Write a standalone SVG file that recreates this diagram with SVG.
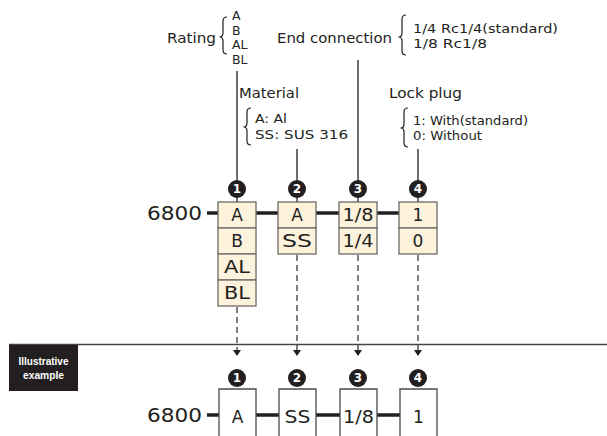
<svg xmlns="http://www.w3.org/2000/svg" width="607" height="436" viewBox="0 0 607 436">
<style>
.t{font-family:"DejaVu Sans","Liberation Sans",sans-serif;fill:#231f20}
.lbl{font-size:14px}
.sm{font-size:12.5px}
.bx{font-size:17px;text-anchor:middle}
.num{font-family:"DejaVu Sans","Liberation Sans",sans-serif;font-size:12px;font-weight:bold;fill:#fff;text-anchor:middle}
.cell{fill:#fdf3dc;stroke:#6e6a64;stroke-width:1.3}
.wcell{fill:#fff;stroke:#4a4a4a;stroke-width:1.3}
.brace{fill:none;stroke:#231f20;stroke-width:1.2}
.lead{stroke:#231f20;stroke-width:1.3}
.bar{stroke:#231f20;stroke-width:3.5}
.dash{stroke:#555;stroke-width:1.5;stroke-dasharray:6 4}
.ah{fill:#231f20}
</style>
<defs>
<g id="c1"><circle r="9" fill="#231f20"/><text class="num" y="4.3">1</text></g>
<g id="c2"><circle r="9" fill="#231f20"/><text class="num" y="4.3">2</text></g>
<g id="c3"><circle r="9" fill="#231f20"/><text class="num" y="4.3">3</text></g>
<g id="c4"><circle r="9" fill="#231f20"/><text class="num" y="4.3">4</text></g>
</defs>

<g id="rating-label">
<text class="t lbl" x="167" y="43" textLength="49" lengthAdjust="spacingAndGlyphs">Rating</text>
<path class="brace" d="M227,17 Q223,17 223,21 L223,33 Q223,37 219.5,37 Q223,37 223,41 L223,50 Q223,54 227,54"/>
<text class="t sm" x="232" y="20">A</text>
<text class="t sm" x="232" y="35">B</text>
<text class="t sm" x="232" y="49">AL</text>
<text class="t sm" x="232" y="64">BL</text>
</g>

<g id="end-label">
<text class="t lbl" x="277" y="43" textLength="115" lengthAdjust="spacingAndGlyphs">End connection</text>
<path class="brace" d="M406,15 Q402,15 402,19 L402,33 Q402,37 398.5,37 Q402,37 402,41 L402,51 Q402,55 406,55"/>
<text class="t sm" x="413" y="33" textLength="145" lengthAdjust="spacingAndGlyphs">1/4 Rc1/4(standard)</text>
<text class="t sm" x="413" y="48" textLength="74" lengthAdjust="spacingAndGlyphs">1/8 Rc1/8</text>
</g>

<g id="material-label">
<text class="t lbl" x="239" y="98" textLength="60" lengthAdjust="spacingAndGlyphs">Material</text>
<path class="brace" d="M251,108 Q247,108 247,112 L247,123 Q247,127 243.5,127 Q247,127 247,131 L247,141 Q247,145 251,145"/>
<text class="t sm" x="255" y="123" textLength="32" lengthAdjust="spacingAndGlyphs">A: Al</text>
<text class="t sm" x="255" y="139" textLength="93" lengthAdjust="spacingAndGlyphs">SS: SUS 316</text>
</g>

<g id="lock-label">
<text class="t lbl" x="389" y="98" textLength="73" lengthAdjust="spacingAndGlyphs">Lock plug</text>
<path class="brace" d="M408,108 Q404,108 404,112 L404,124 Q404,128 400.5,128 Q404,128 404,132 L404,143 Q404,147 408,147"/>
<text class="t sm" x="413" y="125" textLength="115" lengthAdjust="spacingAndGlyphs">1: With(standard)</text>
<text class="t sm" x="413" y="140" textLength="69" lengthAdjust="spacingAndGlyphs">0: Without</text>
</g>

<g id="connectors">
<line class="lead" x1="237" y1="71" x2="237" y2="202"/>
<line class="lead" x1="358" y1="60" x2="358" y2="202"/>
<line class="lead" x1="297" y1="149" x2="297" y2="202"/>
<line class="lead" x1="418" y1="149" x2="418" y2="202"/>
<line class="bar" x1="207" y1="213" x2="218" y2="213"/>
<line class="bar" x1="256" y1="213" x2="278" y2="213"/>
<line class="bar" x1="316" y1="213" x2="339" y2="213"/>
<line class="bar" x1="377" y1="213" x2="399" y2="213"/>
<line class="dash" x1="237" y1="307" x2="237" y2="350"/>
<line class="dash" x1="297" y1="255" x2="297" y2="350"/>
<line class="dash" x1="358" y1="255" x2="358" y2="350"/>
<line class="dash" x1="418" y1="255" x2="418" y2="350"/>
<path class="ah" d="M233,350 L241,350 L237,356 Z"/>
<path class="ah" d="M293,350 L301,350 L297,356 Z"/>
<path class="ah" d="M354,350 L362,350 L358,356 Z"/>
<path class="ah" d="M414,350 L422,350 L418,356 Z"/>
<line class="bar" x1="207" y1="415" x2="219" y2="415"/>
<line class="bar" x1="256" y1="415" x2="279" y2="415"/>
<line class="bar" x1="316" y1="415" x2="340" y2="415"/>
<line class="bar" x1="377" y1="415" x2="400" y2="415"/>
</g>

<g id="code-top">
<text class="t" x="147" y="220" font-size="19" textLength="55" lengthAdjust="spacingAndGlyphs">6800</text>
</g>

<g id="box1">
<rect class="cell" x="218" y="202" width="38" height="26"/>
<rect class="cell" x="218" y="228" width="38" height="26"/>
<rect class="cell" x="218" y="254" width="38" height="26"/>
<rect class="cell" x="218" y="280" width="38" height="26"/>
<text class="t bx" x="237" y="221">A</text>
<text class="t bx" x="237" y="247">B</text>
<text class="t bx" x="237" y="273" textLength="26" lengthAdjust="spacingAndGlyphs">AL</text>
<text class="t bx" x="237" y="299" textLength="26" lengthAdjust="spacingAndGlyphs">BL</text>
<use href="#c1" x="237" y="189"/>
</g>

<g id="box2">
<rect class="cell" x="278" y="202" width="38" height="26"/>
<rect class="cell" x="278" y="228" width="38" height="26"/>
<text class="t bx" x="297" y="221">A</text>
<text class="t bx" x="297" y="247" textLength="30" lengthAdjust="spacingAndGlyphs">SS</text>
<use href="#c2" x="297" y="189"/>
</g>

<g id="box3">
<rect class="cell" x="339" y="202" width="38" height="26"/>
<rect class="cell" x="339" y="228" width="38" height="26"/>
<text class="t bx" x="358" y="221" textLength="31" lengthAdjust="spacingAndGlyphs">1/8</text>
<text class="t bx" x="358" y="247" textLength="31" lengthAdjust="spacingAndGlyphs">1/4</text>
<use href="#c3" x="358" y="189"/>
</g>

<g id="box4">
<rect class="cell" x="399" y="202" width="38" height="26"/>
<rect class="cell" x="399" y="228" width="38" height="26"/>
<text class="t bx" x="418" y="221">1</text>
<text class="t bx" x="418" y="247">0</text>
<use href="#c4" x="418" y="189"/>
</g>

<g id="divider">
<line x1="9" y1="344.5" x2="607" y2="344.5" stroke="#444" stroke-width="1.3"/>
<rect x="9" y="345" width="69" height="46" fill="#231f20"/>
<text x="43.5" y="365" font-family="Liberation Sans,Arial,sans-serif" font-size="11" font-weight="bold" fill="#fff" text-anchor="middle" textLength="50" lengthAdjust="spacingAndGlyphs">Illustrative</text>
<text x="43.5" y="379" font-family="Liberation Sans,Arial,sans-serif" font-size="11" font-weight="bold" fill="#fff" text-anchor="middle" textLength="41" lengthAdjust="spacingAndGlyphs">example</text>
</g>

<g id="code-bottom">
<text class="t" x="147" y="422" font-size="19" textLength="55" lengthAdjust="spacingAndGlyphs">6800</text>
</g>

<g id="ex1">
<path class="wcell" d="M219,440 L219,389 L256,389 L256,440"/>
<text class="t bx" x="237.5" y="423">A</text>
<use href="#c1" x="237" y="378"/>
</g>
<g id="ex2">
<path class="wcell" d="M279,440 L279,389 L316,389 L316,440"/>
<text class="t bx" x="297.5" y="423" textLength="26" lengthAdjust="spacingAndGlyphs">SS</text>
<use href="#c2" x="297" y="378"/>
</g>
<g id="ex3">
<path class="wcell" d="M340,440 L340,389 L377,389 L377,440"/>
<text class="t bx" x="358.5" y="423" textLength="31" lengthAdjust="spacingAndGlyphs">1/8</text>
<use href="#c3" x="358" y="378"/>
</g>
<g id="ex4">
<path class="wcell" d="M400,440 L400,389 L437,389 L437,440"/>
<text class="t bx" x="418.5" y="423">1</text>
<use href="#c4" x="418" y="378"/>
</g>
</svg>
